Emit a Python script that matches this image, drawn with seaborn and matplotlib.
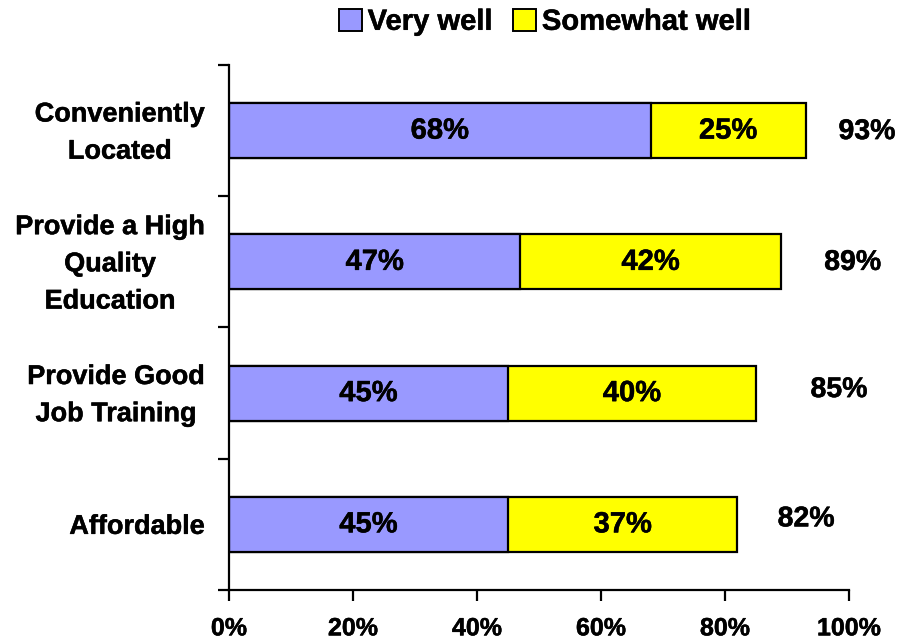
import matplotlib
matplotlib.use("Agg")
import matplotlib.pyplot as plt
import matplotlib.patheffects as pe
from matplotlib.transforms import ScaledTranslation
import seaborn as sns
import pandas as pd
from matplotlib.patches import Patch

categories = ["Conveniently\nLocated", "Provide a High\nQuality\nEducation",
              "Provide Good\nJob Training", "Affordable"]
very_well = [68, 47, 45, 45]
somewhat_well = [25, 42, 40, 37]
totals = [93, 89, 85, 82]
x_ticks = [0, 20, 40, 60, 80, 100]

BLUE = "#9999FF"
YELLOW = "#FFFF00"

sns.set_theme(style="white")
plt.rcParams["font.family"] = ["Liberation Sans", "DejaVu Sans"]
plt.rcParams["font.weight"] = "bold"
plt.rcParams["text.color"] = "black"
plt.rcParams["xtick.color"] = "black"
plt.rcParams["ytick.color"] = "black"
plt.rcParams["xtick.labelcolor"] = "black"
plt.rcParams["ytick.labelcolor"] = "black"

# slightly heavier strokes for all lettering
heavy = [pe.withStroke(linewidth=0.35, foreground="black")]

df = pd.DataFrame({"cat": categories, "very": very_well,
                   "some": somewhat_well, "total": totals})

fig = plt.figure(figsize=(9, 6.41), dpi=100)
ax = fig.add_axes([0.2544, 0.0796, 0.6889, 0.819])

# full bar (very + somewhat) in yellow, then the "very well" part on top
sns.barplot(data=df, x="total", y="cat", orient="h", color=YELLOW,
            saturation=1, width=0.42, edgecolor="black", linewidth=1.6, ax=ax)
sns.barplot(data=df, x="very", y="cat", orient="h", color=BLUE,
            saturation=1, width=0.42, edgecolor="black", linewidth=1.6, ax=ax)

bar_fs = 21
for i, (v, s) in enumerate(zip(very_well, somewhat_well)):
    ax.text(v / 2, i, f"{v}%", ha="center", va="center",
            fontsize=bar_fs, fontweight="bold", color="black", path_effects=heavy)
    ax.text(v + s / 2, i, f"{s}%", ha="center", va="center",
            fontsize=bar_fs, fontweight="bold", color="black", path_effects=heavy)

# totals to the right of each bar
total_dx = [9.9, 11.6, 13.4, 11.1]
total_dy = [0.011, 0.008, -0.023, -0.038]
for i, t in enumerate(totals):
    ax.text(t + total_dx[i], i + total_dy[i], f"{t}%", ha="center",
            va="center", fontsize=20.5, fontweight="bold", color="black",
            clip_on=False, path_effects=heavy)

ax.set_xlim(0, 100)
ax.set_ylim(len(categories) - 0.5, -0.5)
ax.set_xticks(x_ticks)
ax.set_xticklabels([f"{x}%" for x in x_ticks], fontsize=18, fontweight="bold",
                   path_effects=heavy)

# tick marks at category boundaries; category names beside each bar
ax.set_yticks([i - 0.5 for i in range(len(categories) + 1)])
ax.set_yticklabels([])
label_tr = ax.get_yaxis_transform() + ScaledTranslation(-0.24, -0.025, fig.dpi_scale_trans)
for i, name in enumerate(categories):
    ax.text(0, i, name, transform=label_tr, ha="right", va="center",
            multialignment="center", linespacing=1.56, fontsize=19.5,
            fontweight="bold", color="black", clip_on=False, path_effects=heavy)
ax.tick_params(axis="y", which="major", length=8, width=1.6,
               direction="out", left=True)
ax.tick_params(axis="x", length=8, width=1.6,
               direction="out", bottom=True, pad=11)
ax.set_xlabel("")
ax.set_ylabel("")

for side in ["top", "right"]:
    ax.spines[side].set_visible(False)
for side in ["left", "bottom"]:
    ax.spines[side].set_color("black")
    ax.spines[side].set_linewidth(1.6)

handles = [Patch(facecolor=BLUE, edgecolor="black", linewidth=1.4, label="Very well"),
           Patch(facecolor=YELLOW, edgecolor="black", linewidth=1.4, label="Somewhat well")]
leg = fig.legend(handles=handles, loc="center", bbox_to_anchor=(0.605, 0.966),
                 ncol=2, frameon=False, prop={"size": 21, "weight": "bold"},
                 handlelength=0.8, handleheight=0.8, handletextpad=0.2,
                 columnspacing=0.7, borderpad=0.1)
for txt in leg.get_texts():
    txt.set_path_effects(heavy)

fig.savefig("out.png", dpi=100)
